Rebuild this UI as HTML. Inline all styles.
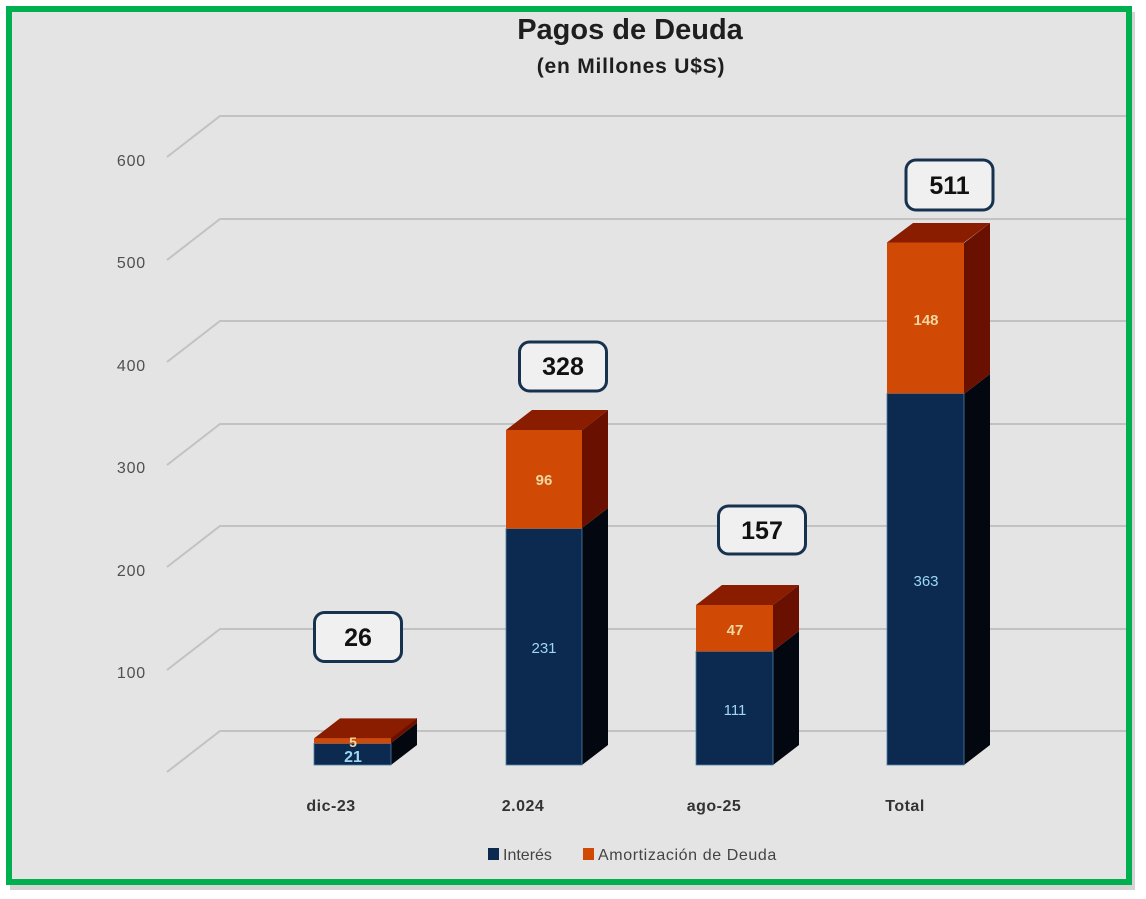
<!DOCTYPE html>
<html><head><meta charset="utf-8"><style>
html,body{margin:0;padding:0;background:#fff;}
svg{display:block;}
text{font-family:"Liberation Sans",Arial,sans-serif;}
</style></head><body>
<svg width="1146" height="899" viewBox="0 0 1146 899" xmlns="http://www.w3.org/2000/svg">
<rect x="0" y="0" width="1146" height="899" fill="#ffffff"/>
<rect x="10" y="12" width="1125" height="878" fill="#b8b8b8" opacity="0.6"/>
<rect x="9" y="9" width="1120" height="873" fill="#e4e4e4" stroke="#00b050" stroke-width="6"/>

<text x="630" y="39" text-anchor="middle" font-size="29" font-weight="bold" fill="#1e1e1e">Pagos de Deuda</text>
<text x="631" y="73" text-anchor="middle" font-size="21" font-weight="bold" fill="#1e1e1e" letter-spacing="0.8">(en Millones U$S)</text>

<g stroke="#c2c2c2" stroke-width="2" fill="none">
<polyline points="167,157 220,116 1126,116"/>
<polyline points="167,260 220,219 1126,219"/>
<polyline points="167,362 220,321 1126,321"/>
<polyline points="167,465 220,424 1126,424"/>
<polyline points="167,567 220,526 1126,526"/>
<polyline points="167,670 220,629 1126,629"/>
<polyline points="167,772 220,731 1126,731"/>
</g>
<g font-size="16" fill="#505050" text-anchor="end" letter-spacing="0.8">
<text x="146" y="166">600</text>
<text x="146" y="268">500</text>
<text x="146" y="371">400</text>
<text x="146" y="473">300</text>
<text x="146" y="576">200</text>
<text x="146" y="678">100</text>
</g>

<!-- dic-23: 21 + 5 -->
<g>
<polygon points="391,765 417,745 417,723 391,743" fill="#03070f"/>
<polygon points="391,743 417,723 417,718 391,738" fill="#6a1000"/>
<rect x="314" y="743.5" width="77" height="21.5" fill="#0c2a50" stroke="#4b7fa8" stroke-width="0.8"/>
<rect x="314" y="738.4" width="77" height="5.1" fill="#d04a06"/>
<polygon points="314,738.4 340,718.4 417,718.4 391,738.4" fill="#8a1c00"/>
<text x="353" y="747" text-anchor="middle" font-size="14" font-weight="bold" fill="#f3d6a0">5</text>
<text x="353" y="762" text-anchor="middle" font-size="16" font-weight="bold" fill="#9fd6f0">21</text>
</g>

<!-- 2.024: 231 + 96 -->
<g>
<polygon points="582,765 608,745 608,508 582,528" fill="#03070f"/>
<polygon points="582,528 608,508 608,410 582,430" fill="#6a1000"/>
<rect x="506" y="528.6" width="76" height="236.4" fill="#0c2a50" stroke="#4b7fa8" stroke-width="0.8"/>
<rect x="506" y="430" width="76" height="98.6" fill="#d04a06"/>
<polygon points="506,430 532,410 608,410 582,430" fill="#8a1c00"/>
<text x="544" y="485" text-anchor="middle" font-size="15" font-weight="bold" fill="#f3d6a0">96</text>
<text x="544" y="653" text-anchor="middle" font-size="15" fill="#9fd6f0">231</text>
</g>

<!-- ago-25: 111 + 47 -->
<g>
<polygon points="773,765 799,745 799,631 773,651" fill="#03070f"/>
<polygon points="773,651 799,631 799,585 773,605" fill="#6a1000"/>
<rect x="696" y="651.4" width="77" height="113.6" fill="#0c2a50" stroke="#4b7fa8" stroke-width="0.8"/>
<rect x="696" y="605" width="77" height="46.4" fill="#d04a06"/>
<polygon points="696,605 722,585 799,585 773,605" fill="#8a1c00"/>
<text x="735" y="635" text-anchor="middle" font-size="15" font-weight="bold" fill="#f3d6a0">47</text>
<text x="735" y="715" text-anchor="middle" font-size="15" fill="#9fd6f0">111</text>
</g>

<!-- Total: 363 + 148 -->
<g>
<polygon points="964,765 990,745 990,374 964,394" fill="#03070f"/>
<polygon points="964,394 990,374 990,223 964,243" fill="#6a1000"/>
<rect x="887" y="393.5" width="77" height="371.5" fill="#0c2a50" stroke="#4b7fa8" stroke-width="0.8"/>
<rect x="887" y="242.5" width="77" height="151" fill="#d04a06"/>
<polygon points="887,242.5 913,223 990,223 964,242.5" fill="#8a1c00"/>
<text x="926" y="325" text-anchor="middle" font-size="15" font-weight="bold" fill="#f3d6a0">148</text>
<text x="926" y="586" text-anchor="middle" font-size="15" fill="#9fd6f0">363</text>
</g>

<!-- total boxes -->
<g fill="#f0f0f0" stroke="#16324f" stroke-width="3">
<rect x="314.5" y="612.5" width="87" height="49" rx="10"/>
<rect x="519.5" y="342" width="87" height="49" rx="10"/>
<rect x="718.5" y="506" width="87" height="48" rx="10"/>
<rect x="906" y="160" width="87" height="50" rx="10"/>
</g>
<g font-size="25" font-weight="bold" fill="#111" text-anchor="middle">
<text x="358" y="646">26</text>
<text x="563" y="375">328</text>
<text x="762" y="539">157</text>
<text x="949.5" y="194">511</text>
</g>

<g font-size="16" font-weight="bold" fill="#333" text-anchor="middle" letter-spacing="0.5">
<text x="331" y="811">dic-23</text>
<text x="523" y="811">2.024</text>
<text x="714" y="811">ago-25</text>
<text x="905" y="811">Total</text>
</g>

<rect x="488" y="848" width="11" height="12" fill="#0c2a50"/>
<text x="503" y="860" font-size="16" fill="#444">Interés</text>
<rect x="583" y="848" width="11" height="12" fill="#d04a06"/>
<text x="598" y="860" font-size="16" fill="#444" letter-spacing="0.6">Amortización de Deuda</text>
</svg>
</body></html>
